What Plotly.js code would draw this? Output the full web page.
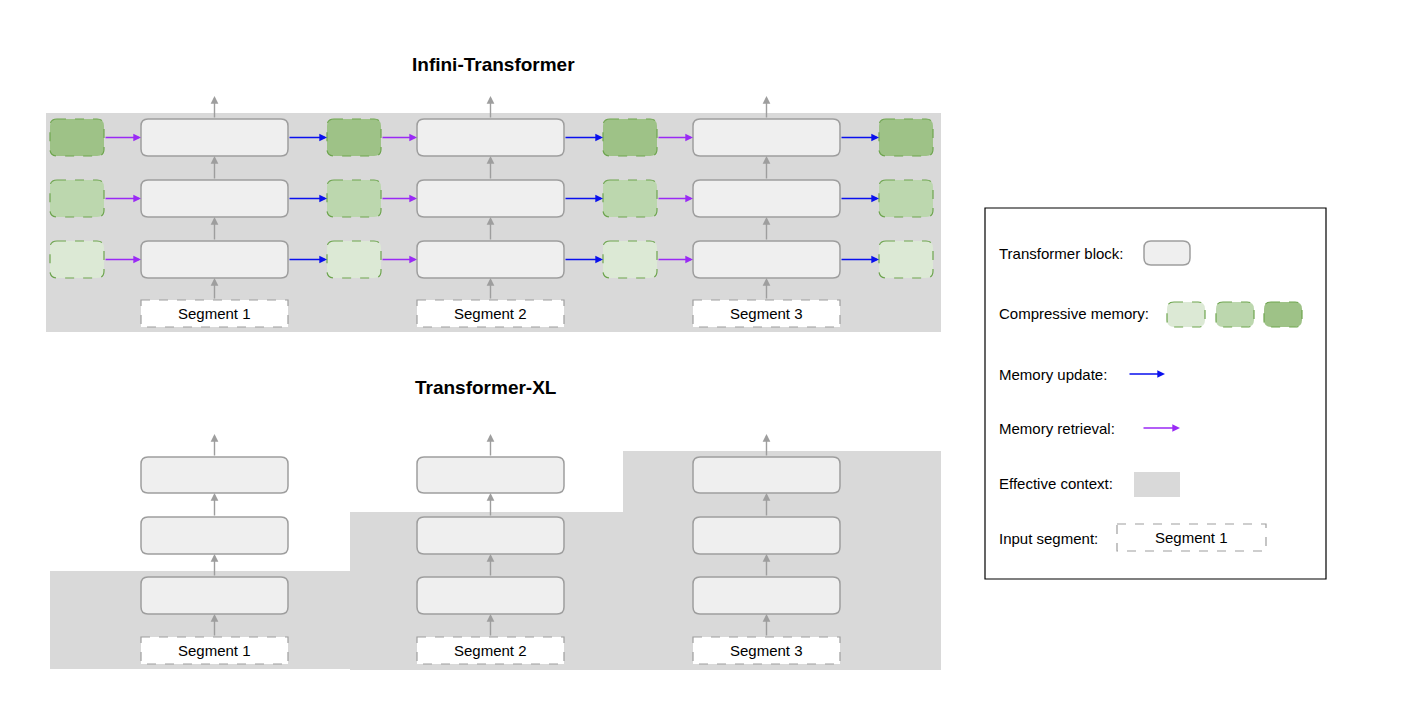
<!DOCTYPE html>
<html>
<head>
<meta charset="utf-8">
<script src="https://cdn.plot.ly/plotly-3.0.1.min.js"></script>
<style>html,body{margin:0;padding:0;background:#fff;} #plot{width:1406px;height:702px;}</style>
</head>
<body>
<div id="plot"></div>
<script>
// ─── diagram content ───────────────────────────────────────
var panelTitles = ['Infini-Transformer', 'Transformer-XL'];
var segmentLabels = ['Segment 1', 'Segment 2', 'Segment 3'];
var memoryColors = ['#dce9d5', '#bcd7ae', '#9ec287'];   // layer 1 (bottom) .. layer 3 (top)
var legendLabels = ['Transformer block:', 'Compressive memory:', 'Memory update:',
  'Memory retrieval:', 'Effective context:', 'Input segment:'];

var BLOCK_FILL = '#efefef', BLOCK_LINE = '#9e9e9e', CTX = '#d9d9d9';
var MEM_LINE = '#6ea54f', UPDATE = '#0a10ee', RETRIEVE = '#9a2af5', ARROW = '#9e9e9e';
var FONT = 'Liberation Sans, Arial, sans-serif';
var TXT = 15;

var colX = [141, 417, 693];          // block left edges
var BW = 147;
var memX = [50, 327, 603, 879];      // memory box left edges
var MW = 54;

var shapes = [];
var ann = [];

function rr(x0, y0, x1, y1, r) {
  return 'M' + (x0 + r) + ',' + y0 + ' L' + (x1 - r) + ',' + y0 + ' Q' + x1 + ',' + y0 + ' ' + x1 + ',' + (y0 + r) +
    ' L' + x1 + ',' + (y1 - r) + ' Q' + x1 + ',' + y1 + ' ' + (x1 - r) + ',' + y1 +
    ' L' + (x0 + r) + ',' + y1 + ' Q' + x0 + ',' + y1 + ' ' + x0 + ',' + (y1 - r) +
    ' L' + x0 + ',' + (y0 + r) + ' Q' + x0 + ',' + y0 + ' ' + (x0 + r) + ',' + y0 + ' Z';
}
function rect(x0, y0, x1, y1, fill, above) {
  shapes.push({ type: 'rect', xref: 'x', yref: 'y', x0: x0, y0: y0, x1: x1, y1: y1,
    fillcolor: fill, line: { width: 0 }, layer: above ? 'above' : 'below' });
}
function block(x0, y0, x1, y1) {
  shapes.push({ type: 'path', path: rr(x0, y0, x1, y1, 7), fillcolor: BLOCK_FILL,
    line: { color: BLOCK_LINE, width: 1.5 } });
}
function mem(x0, y0, x1, y1, fill) {
  shapes.push({ type: 'path', path: rr(x0, y0, x1, y1, 7), fillcolor: fill,
    line: { color: MEM_LINE, width: 1.2, dash: 'dash' } });
}
function seg(x0, y0, x1, y1, label) {
  shapes.push({ type: 'rect', x0: x0, y0: y0, x1: x1, y1: y1, fillcolor: '#ffffff',
    line: { color: '#9e9e9e', width: 1.2, dash: 'dash' } });
  ann.push({ x: (x0 + x1) / 2, y: (y0 + y1) / 2, text: label, showarrow: false,
    font: { family: FONT, size: TXT, color: '#000' } });
}
function arrow(x0, y0, x1, y1, color) {
  ann.push({ x: x1, y: y1, ax: x0, ay: y0, axref: 'x', ayref: 'y', xref: 'x', yref: 'y',
    text: '', showarrow: true, arrowhead: 2, arrowsize: 1.1, arrowwidth: 1.4, arrowcolor: color,
    standoff: 0, startstandoff: 0 });
}
function label(x, y, text, size, bold, anchor) {
  ann.push({ x: x, y: y, text: bold ? '<b>' + text + '</b>' : text, showarrow: false,
    xanchor: anchor || 'center', font: { family: FONT, size: size, color: '#000' } });
}

// ─── Infini-Transformer ────────────────────────────────────
var topRows = [[241, 278], [180, 217], [119, 156]];
rect(46, 113, 941, 332, CTX);
label(493, 64, panelTitles[0], 19, true);
colX.forEach(function (x, c) {
  topRows.forEach(function (r) {
    block(x, r[0], x + BW, r[1]);
    var ym = (r[0] + r[1]) / 2;
    arrow(memX[c] + MW, ym, x, ym, RETRIEVE);
    arrow(x + BW, ym, memX[c + 1], ym, UPDATE);
  });
  var cx = x + BW / 2;
  seg(x, 300, x + BW, 327, segmentLabels[c]);
  arrow(cx, 300, cx, 278, ARROW);
  arrow(cx, 241, cx, 217, ARROW);
  arrow(cx, 180, cx, 156, ARROW);
  arrow(cx, 119, cx, 96, ARROW);
});
memX.forEach(function (x) {
  topRows.forEach(function (r, l) { mem(x, r[0], x + MW, r[1], memoryColors[l]); });
});

// ─── Transformer-XL ────────────────────────────────────────
var botRows = [[577, 614], [517, 554], [457, 493]];
var ctxRegions = [[50, 571, 350, 669], [350, 512, 623, 670], [623, 451, 941, 670]];
ctxRegions.forEach(function (g) { rect(g[0], g[1], g[2], g[3], CTX); });
label(486, 387, panelTitles[1], 19, true);
colX.forEach(function (x, c) {
  botRows.forEach(function (r) { block(x, r[0], x + BW, r[1]); });
  var cx = x + BW / 2;
  seg(x, 637, x + BW, 664, segmentLabels[c]);
  arrow(cx, 637, cx, 614, ARROW);
  arrow(cx, 577, cx, 554, ARROW);
  arrow(cx, 517, cx, 493, ARROW);
  arrow(cx, 457, cx, 434, ARROW);
});

// ─── legend ────────────────────────────────────────────────
shapes.push({ type: 'rect', x0: 985, y0: 208, x1: 1326, y1: 579, fillcolor: 'rgba(0,0,0,0)',
  line: { color: '#000', width: 1.2 } });
var ly = [253, 313, 374, 428, 483, 538];
legendLabels.forEach(function (t, i) { label(997, ly[i], t, TXT, false, 'left'); });
block(1144, 241, 1190, 265);
[1167, 1216, 1264].forEach(function (x, i) { mem(x, 302, x + 38, 327, memoryColors[i]); });
arrow(1128, 374, 1165, 374, UPDATE);
arrow(1142, 428, 1180, 428, RETRIEVE);
rect(1134, 472, 1180, 497, CTX, true);
seg(1117, 524, 1266, 551, segmentLabels[0]);

var layout = {
  width: 1406, height: 702, margin: { l: 0, r: 0, t: 0, b: 0 },
  paper_bgcolor: '#fff', plot_bgcolor: '#fff', showlegend: false,
  xaxis: { range: [0, 1406], visible: false, fixedrange: true },
  yaxis: { range: [702, 0], visible: false, fixedrange: true },
  shapes: shapes, annotations: ann
};
Plotly.newPlot('plot', [], layout, { staticPlot: true, displayModeBar: false });
</script>
</body>
</html>
